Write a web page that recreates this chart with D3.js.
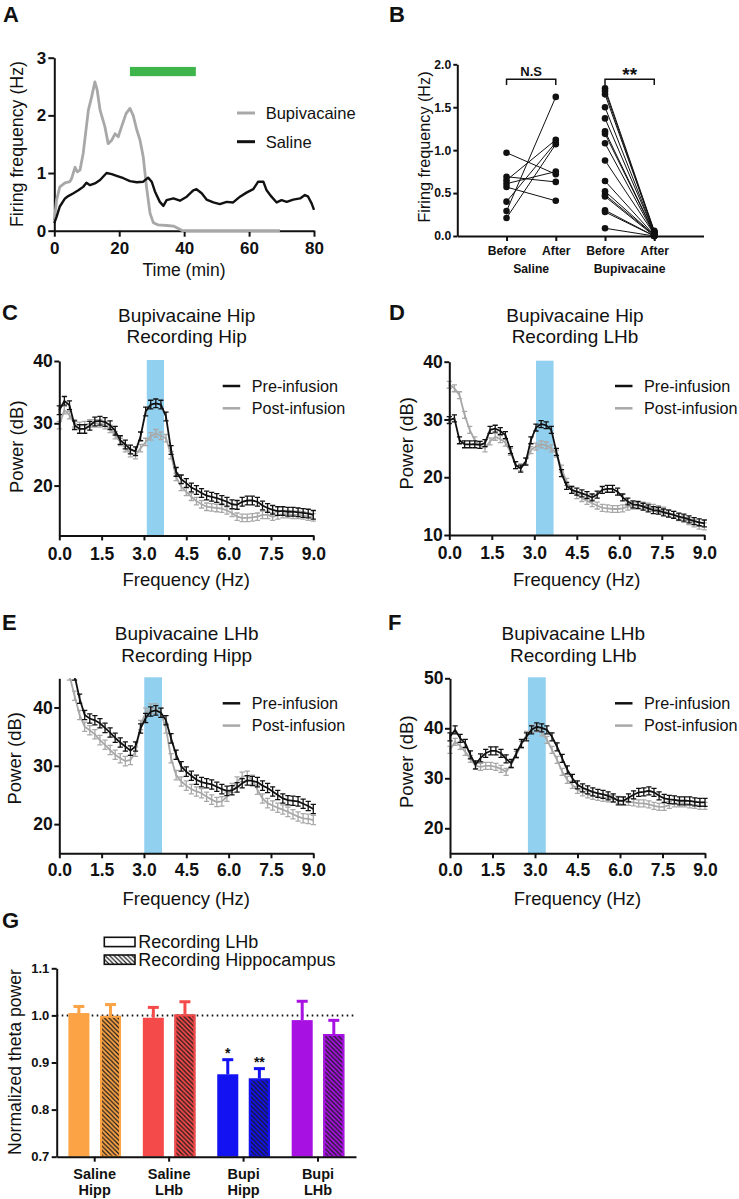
<!DOCTYPE html>
<html><head><meta charset="utf-8">
<script src="https://cdn.jsdelivr.net/npm/d3@7"></script>
<style>body{margin:0;background:#fff} svg{display:block} text{font-family:"Liberation Sans",Arial,Helvetica,sans-serif}</style>
</head><body><svg id="c" width="739" height="1199"></svg>
<script>
// ---------------- DATA ----------------
// Panel A: firing frequency traces
const timeBupi = [0,0.7,1.7,3.3,4.8,5.3,6.4,7.1,7.9,8.9,10.5,11.5,12.5,13.2,14.1,15.6,16.6,17.7,18.7,19.7,20.7,22.1,23.3,24.3,25.4,26.4,27.4,28.4,29.5,30.5,32,34.6,36.7,38.2,39.5,69.5];
const rateBupi = [0.18,0.53,0.76,0.83,0.85,0.9,1.1,1.02,1.05,1.34,2.09,2.32,2.58,2.44,2.09,1.8,1.51,1.57,1.68,1.63,1.8,2.03,2.12,2.0,1.75,1.57,1.28,0.76,0.3,0.14,0.1,0.09,0.08,0.04,0,0];
const timeSaline = [0,0.7,1.7,3.3,4.3,5.9,7.4,8.9,9.9,11,12.5,14.1,15.1,16.1,17.7,19.2,21.3,23.3,25.4,27.4,28.9,30,31,32.5,33.6,34.6,36.7,38.7,40.8,42.8,43.8,45.4,46.9,49,51,53.1,55.1,57.2,59.2,61.3,62.8,64.4,65.4,66.9,68.5,70,71.6,73.6,75.7,77.2,78.2,79.3,80];
const rateSaline = [0.13,0.24,0.42,0.56,0.6,0.65,0.7,0.76,0.83,0.79,0.82,0.88,0.94,1.0,0.98,0.95,0.91,0.86,0.84,0.85,0.92,0.85,0.68,0.5,0.43,0.53,0.56,0.52,0.59,0.7,0.72,0.65,0.54,0.49,0.46,0.5,0.49,0.59,0.66,0.72,0.85,0.85,0.7,0.59,0.49,0.53,0.5,0.54,0.56,0.62,0.59,0.47,0.36];
const infusionTime = [23.3, 43.6];
const infusionLevel = [2.68, 2.84];
const timeTicks = [0,20,40,60,80];
const rateTicksA = [0,1,2,3];
const seriesA = ["Bupivacaine","Saline"];

// Panel B: paired firing frequency
const salineBefore = [0.97,0.69,0.65,0.61,0.57,0.40,0.29,0.21];
const salineAfter  = [0.72,0.63,1.12,0.75,0.41,1.09,1.62,1.07];
const bupiBefore = [1.72,1.69,1.65,1.50,1.37,1.22,1.19,1.08,0.88,0.64,0.52,0.48,0.46,0.30,0.28,0.09];
const bupiAfter  = [0.06,0.05,0.05,0.04,0.04,0.03,0.03,0.02,0.02,0.01,0.01,0.01,0.0,0.0,0.0,0.0];
const conditionLabelsB = ["Before","After","Before","After"];
const groupLabelsB = ["Saline","Bupivacaine"];
const sigLabelsB = ["N.S","**"];
const rateTicksB = [0,0.5,1.0,1.5,2.0];

// Panels C–F: power spectra
const freqs = [0,0.18,0.36,0.54,0.72,0.9,1.08,1.26,1.44,1.62,1.8,1.98,2.16,2.34,2.52,2.7,2.88,3.06,3.24,3.42,3.6,3.78,3.96,4.14,4.32,4.5,4.68,4.86,5.04,5.22,5.4,5.58,5.76,5.94,6.12,6.3,6.48,6.66,6.84,7.02,7.2,7.38,7.56,7.74,7.92,8.1,8.28,8.46,8.64,8.82,9.0];
const powerPreC  = [32.1,33.6,32.9,29.7,29.1,29.1,29.6,30.3,30.4,30.2,29.7,28.8,27.3,26.6,25.8,25.5,27.9,31.9,33.0,33.2,33.0,31.1,25.7,22.2,21.0,20.4,19.7,19.3,18.8,18.4,18.2,18.0,17.7,17.4,17.0,16.9,17.4,17.6,17.6,17.4,16.8,16.4,16.1,15.9,15.9,15.8,15.8,15.7,15.6,15.5,15.3];
const powerPostC = [29.7,32.1,31.3,30.0,29.6,29.7,30.0,30.0,30.0,29.7,29.1,28.1,27.0,26.0,25.2,24.9,26.0,27.0,27.9,28.4,28.0,27.6,24.9,21.4,19.8,19.0,18.2,17.5,17.0,16.6,16.5,16.4,16.3,16.0,15.6,15.0,14.8,14.8,14.9,15.0,15.3,15.3,15.0,15.2,15.4,15.4,15.3,15.3,15.2,15.0,14.9];
const powerPreD  = [29.9,30.2,26.4,25.7,25.7,25.7,25.6,25.9,28.2,28.4,28.0,27.3,24.7,22.1,21.5,22.7,26.4,28.6,29.2,29.0,28.2,24.4,20.7,18.5,17.8,17.5,17.2,16.9,16.5,17.0,17.8,18.0,18.0,17.5,16.5,15.8,15.3,15.2,14.9,14.6,14.3,14.2,13.9,13.7,13.5,13.2,13.0,12.7,12.4,12.2,12.0];
const powerPostD = [36.0,35.4,34.2,30.8,28.2,26.4,25.6,25.0,26.2,27.0,26.6,26.0,24.4,22.1,21.7,22.8,24.7,25.3,25.7,25.5,25.0,24.1,21.5,19.2,17.8,16.9,16.4,15.9,15.5,15.1,14.7,14.6,14.5,14.5,14.6,14.9,15.1,15.1,15.1,14.9,14.7,14.5,14.2,13.8,13.5,13.1,12.8,12.4,12.0,11.6,11.5];
const powerPreE  = [53,51,48.5,45.5,41.5,38.7,38.1,37.8,37.3,36.5,35.7,34.8,34.0,33.3,32.6,33.3,36.4,38.2,39.3,39.5,39.1,37.8,34.7,31.9,29.9,29.0,28.3,27.6,27.2,27.0,26.8,26.4,26.0,25.7,25.8,26.3,27.0,27.5,27.4,27.2,26.6,26.2,25.6,25.0,24.4,24.1,24.0,23.9,23.5,23.1,22.6];
const powerPostE = [50,48,45.5,42.0,38.7,36.7,36.1,35.4,34.4,33.6,32.7,31.9,31.3,30.8,31.0,32.4,37.0,39.1,39.8,39.8,39.1,36.4,31.3,28.4,27.3,26.6,26.0,25.6,25.3,24.7,24.2,23.8,23.9,24.7,26.2,27.3,28.1,28.3,27.6,25.9,24.4,23.6,23.2,22.8,22.5,22.1,21.7,21.3,21.0,20.9,20.7];
const powerPreF  = [38.3,39.7,38.0,37.0,34.7,32.7,34.1,35.0,35.5,35.5,35.0,33.9,33.0,35.0,37.0,38.3,39.7,40.3,40.1,39.7,38.3,36.3,34.0,31.7,30.0,28.7,28.1,27.7,27.3,27.0,26.8,26.5,26.1,25.5,25.5,26.1,26.7,27.2,27.3,27.5,27.2,26.5,26.0,25.8,25.7,25.5,25.5,25.5,25.3,25.2,25.2];
const powerPostF = [35.7,37.3,36.5,35.3,33.9,32.5,32.3,32.5,32.5,32.3,31.9,31.3,32.7,34.7,36.7,38.7,39.9,40.0,39.2,37.7,35.7,33.7,31.3,29.7,28.7,27.7,27.2,26.8,26.5,26.3,26.1,26.0,25.9,25.7,25.5,25.3,25.2,25.0,25.0,24.8,24.5,24.3,24.3,24.7,25.0,25.0,25.0,24.8,24.7,24.5,24.5];
const semPre  = {C:0.7, D:0.6, E:0.8, F:0.8};
const semPost = {C:0.6, D:0.6, E:0.8, F:0.7};
const thetaBand = {C:[3.1,3.71], D:[3.06,3.68], E:[3.01,3.64], F:[2.75,3.38]};
const yDomains = {C:[12,40], D:[10,40], E:[15,45], F:[15,50]};
const yTicks = {C:[20,30,40], D:[10,20,30,40], E:[20,30,40], F:[20,30,40,50]};
const freqTicks = [0,1.5,3.0,4.5,6.0,7.5,9.0];
const titles = {C:["Bupivacaine Hip","Recording Hip"], D:["Bupivacaine Hip","Recording LHb"], E:["Bupivacaine LHb","Recording Hipp"], F:["Bupivacaine LHb","Recording LHb"]};
const seriesSpec = ["Pre-infusion","Post-infusion"];

// Panel G: normalized theta power
const groupsG1 = ["Saline","Saline","Bupi","Bupi"];
const groupsG2 = ["Hipp","LHb","Hipp","LHb"];
const recordingsG = ["Recording LHb","Recording Hippocampus"];
const thetaLHb  = [1.005,0.995,0.875,0.990];
const semLHb    = [0.014,0.022,0.031,0.040];
const thetaHipp = [0.999,1.002,0.866,0.9605];
const semHipp   = [0.024,0.027,0.021,0.029];
const starsLHb  = ["","","*",""];
const starsHipp = ["","","**",""];
const thetaTicks = [0.7,0.8,0.9,1.0,1.1];
const colorsG = ["#fba345","#f54a4a","#1212f2","#a712e2"];

// ---------------- DRAWING ----------------
const FF = '"Liberation Sans", Arial, Helvetica, sans-serif';
const INK = "#111", GRAY = "#a8a8a8";
const svg = d3.select("#c");
svg.append("rect").attr("width",739).attr("height",1199).attr("fill","#fff");

function txt(x,y,s,size,opts={}){
  const t = svg.append("text").attr("x",x).attr("y",y).text(s)
    .attr("font-size",size).attr("font-family",FF).attr("fill",opts.fill||INK)
    .attr("font-weight",opts.bold?"bold":"normal").attr("text-anchor",opts.anchor||"start");
  if (opts.rotate) t.attr("transform",`rotate(-90,${x},${y})`);
  return t;
}
function styleAxis(g,size,bold=true){
  g.attr("font-family",FF);
  g.select(".domain").attr("stroke",INK).attr("stroke-width",2);
  g.selectAll(".tick line").attr("stroke",INK).attr("stroke-width",2);
  g.selectAll(".tick text").attr("font-size",size).attr("font-weight",bold?"bold":"normal").attr("fill",INK).attr("font-family",FF);
}
function letter(s,x,y){ txt(x,y,s,22,{bold:true}); }

// ===== Panel A =====
(function(){
  const x = d3.scaleLinear().domain([0,80]).range([54.3,314]);
  const y = d3.scaleLinear().domain([0,3]).range([230.7,57.7]);
  letter("A",3,22);
  svg.append("rect").attr("x",x(infusionTime[0])).attr("width",x(infusionTime[1])-x(infusionTime[0]))
    .attr("y",y(infusionLevel[1])).attr("height",y(infusionLevel[0])-y(infusionLevel[1])).attr("fill","#3db54a");
  const gx = svg.append("g").attr("transform",`translate(0,${y(0)})`)
    .call(d3.axisBottom(x).tickValues(timeTicks).tickFormat(d3.format("d")).tickSize(6).tickSizeOuter(0).tickPadding(5.5));
  styleAxis(gx,17);
  const gy = svg.append("g").attr("transform",`translate(${x(0)},0)`)
    .call(d3.axisLeft(y).tickValues(rateTicksA).tickFormat(d3.format("d")).tickSize(6).tickSizeOuter(0).tickPadding(2));
  styleAxis(gy,17);
  const line = d3.line().x(d=>x(d[0])).y(d=>y(d[1]));
  svg.append("path").datum(timeBupi.map((t,i)=>[t,rateBupi[i]])).attr("d",line)
    .attr("fill","none").attr("stroke",GRAY).attr("stroke-width",2.8).attr("stroke-linejoin","round");
  svg.append("path").datum(timeSaline.map((t,i)=>[t,rateSaline[i]])).attr("d",line)
    .attr("fill","none").attr("stroke",INK).attr("stroke-width",2.4).attr("stroke-linejoin","round");
  // legend
  [[GRAY,113],[INK,141.7]].forEach(([c,ly],i)=>{
    svg.append("line").attr("x1",237).attr("x2",255).attr("y1",ly).attr("y2",ly).attr("stroke",c).attr("stroke-width",3);
    txt(265.7,ly+6,seriesA[i],16.5);
  });
  txt(184,276,"Time (min)",17.5,{anchor:"middle"});
  txt(23,144,"Firing frequency (Hz)",17.8,{anchor:"middle",rotate:true});
})();

// ===== Panel B =====
(function(){
  const x = d3.scaleLinear().domain([0,5]).range([457.3,703.5]);
  const y = d3.scaleLinear().domain([0,2]).range([236,64.3]);
  letter("B",389,22);
  const gx = svg.append("g").attr("transform",`translate(0,${y(0)})`)
    .call(d3.axisBottom(x).tickValues([1,2,3,4]).tickFormat((d,i)=>conditionLabelsB[i]).tickSize(5).tickSizeOuter(0).tickPadding(5.5));
  styleAxis(gx,12.2);
  const gy = svg.append("g").attr("transform",`translate(${x(0)},0)`)
    .call(d3.axisLeft(y).tickValues(rateTicksB).tickFormat(d3.format(".1f")).tickSize(4).tickSizeOuter(0).tickPadding(2));
  styleAxis(gy,12.2);
  const pairs = [[salineBefore,salineAfter,1],[bupiBefore,bupiAfter,3]];
  pairs.forEach(([bef,aft,c])=>{
    bef.forEach((v,i)=>{
      svg.append("line").attr("x1",x(c)).attr("y1",y(v)).attr("x2",x(c+1)).attr("y2",y(aft[i]))
        .attr("stroke",INK).attr("stroke-width",1);
    });
    bef.forEach(v=>svg.append("circle").attr("cx",x(c)).attr("cy",y(v)).attr("r",3.3).attr("fill",INK));
    aft.forEach(v=>svg.append("circle").attr("cx",x(c+1)).attr("cy",y(v)).attr("r",3.3).attr("fill",INK));
  });
  // brackets
  [[1,sigLabelsB[0],13,76.3],[3,sigLabelsB[1],19,81]].forEach(([c,lab,fs,by])=>{
    svg.append("path").attr("d",`M${x(c)},85 V79.3 H${x(c+1)} V85`).attr("fill","none").attr("stroke",INK).attr("stroke-width",1.5);
    txt((x(c)+x(c+1))/2,by,lab,fs,{bold:true,anchor:"middle"});
  });
  txt((x(1)+x(2))/2,272.5,groupLabelsB[0],12.2,{bold:true,anchor:"middle"});
  txt((x(3)+x(4))/2,272.5,groupLabelsB[1],12.2,{bold:true,anchor:"middle"});
  txt(429.5,147,"Firing frequency (Hz)",16.2,{anchor:"middle",rotate:true});
})();

// ===== Panels C–F =====
function spectrum(o){
  const k = o.key;
  const x = d3.scaleLinear().domain([0,9]).range([o.x0,o.x1]);
  const y = d3.scaleLinear().domain(yDomains[k]).range([o.yBot,o.yTop]);
  letter(k,o.lx,o.ly);
  txt(o.tx,o.ty1,titles[k][0],19,{anchor:"middle"});
  txt(o.tx,o.ty2,titles[k][1],19,{anchor:"middle"});
  svg.append("rect").attr("x",x(thetaBand[k][0])).attr("width",x(thetaBand[k][1])-x(thetaBand[k][0]))
    .attr("y",o.yTop-1).attr("height",o.yBot-o.yTop+1).attr("fill","#92d0ef");
  const cid = "clip"+k;
  svg.append("clipPath").attr("id",cid).append("rect").attr("x",o.x0-5).attr("y",o.yTop).attr("width",o.x1-o.x0+10).attr("height",o.yBot-o.yTop);
  const plot = svg.append("g").attr("clip-path",`url(#${cid})`);
  [[o.post,semPost[k],GRAY],[o.pre,semPre[k],INK]].forEach(([vals,sem,col])=>{
    const pts = freqs.map((f,i)=>[f,vals[i]]);
    plot.append("path").datum(pts).attr("d",d3.line().x(d=>x(d[0])).y(d=>y(d[1])))
      .attr("fill","none").attr("stroke",col).attr("stroke-width",1.8);
    const eb = plot.append("g").attr("stroke",col).attr("stroke-width",1.3);
    pts.forEach(d=>{
      const xx=x(d[0]), y1=y(d[1]+sem), y2=y(d[1]-sem);
      eb.append("line").attr("x1",xx).attr("x2",xx).attr("y1",y1).attr("y2",y2);
      eb.append("line").attr("x1",xx-2.6).attr("x2",xx+2.6).attr("y1",y1).attr("y2",y1);
      eb.append("line").attr("x1",xx-2.6).attr("x2",xx+2.6).attr("y1",y2).attr("y2",y2);
    });
  });
  const gx = svg.append("g").attr("transform",`translate(0,${o.yBot})`)
    .call(d3.axisBottom(x).tickValues(freqTicks).tickFormat(d3.format(".1f")).tickSize(5).tickSizeOuter(0).tickPadding(o.xpad));
  styleAxis(gx,17.5);
  const gy = svg.append("g").attr("transform",`translate(${o.x0},0)`)
    .call(d3.axisLeft(y).tickValues(yTicks[k]).tickFormat(d3.format("d")).tickSize(5).tickSizeOuter(0).tickPadding(1.5));
  styleAxis(gy,17.5);
  txt((o.x0+o.x1)/2,o.fy,"Frequency (Hz)",18.5,{anchor:"middle"});
  txt(o.px,o.py,"Power (dB)",18.5,{anchor:"middle",rotate:true});
  [[INK,o.legY],[GRAY,o.legY+22.3]].forEach(([c,ly],i)=>{
    svg.append("line").attr("x1",o.legX).attr("x2",o.legX+17.5).attr("y1",ly).attr("y2",ly).attr("stroke",c).attr("stroke-width",2.5);
    txt(o.legX+29,ly+5.8,seriesSpec[i],16.2);
  });
}
spectrum({key:"C",pre:powerPreC,post:powerPostC,x0:59.3,x1:313.3,yTop:361,yBot:535.4,lx:2,ly:320,tx:186.7,ty1:321.7,ty2:343.4,xpad:7,fy:586.3,px:23,py:446.7,legX:222.7,legY:386});
spectrum({key:"D",pre:powerPreD,post:powerPostD,x0:449.3,x1:704.3,yTop:361.7,yBot:535,lx:389,ly:320,tx:575,ty1:321.7,ty2:343.4,xpad:7,fy:586.3,px:413,py:443.3,legX:615,legY:386});
spectrum({key:"E",pre:powerPreE,post:powerPostE,x0:59.3,x1:313.3,yTop:678.3,yBot:853.3,lx:2,ly:630,tx:186.7,ty1:640,ty2:661.7,xpad:5.7,fy:904.6,px:21.5,py:758.3,legX:222.7,legY:703.3});
spectrum({key:"F",pre:powerPreF,post:powerPostF,x0:450,x1:705,yTop:678.3,yBot:853.3,lx:388,ly:630,tx:573.3,ty1:640,ty2:661.7,xpad:5.7,fy:904.6,px:413,py:761.7,legX:615,legY:703.3});

// ===== Panel G =====
(function(){
  const y = d3.scaleLinear().domain([0.7,1.1]).range([1156.7,968.3]);
  const x0 = d3.scaleBand().domain(d3.range(groupsG1.length)).range([56.7,356]).paddingInner(0.293).paddingOuter(0.157);
  const x1 = d3.scaleBand().domain(["LHb","Hipp"]).range([0,x0.bandwidth()]).paddingInner(0.335);
  letter("G",2,928);
  const defs = svg.append("defs");
  function hatch(id,bg){
    const p = defs.append("pattern").attr("id",id).attr("patternUnits","userSpaceOnUse").attr("width",4.5).attr("height",4.5);
    p.append("rect").attr("width",4.5).attr("height",4.5).attr("fill",bg);
    p.append("path").attr("d","M0,0 L4.5,4.5 M-1,3.5 L1,5.5 M3.5,-1 L5.5,1").attr("stroke","#1a1a1a").attr("stroke-width",1.2);
  }
  colorsG.forEach((c,i)=>hatch("hatch"+i,c));
  hatch("hatchW","#fff");
  // dotted reference line
  svg.append("line").attr("x1",56.7).attr("x2",356).attr("y1",y(1.0)).attr("y2",y(1.0))
    .attr("stroke",INK).attr("stroke-width",2).attr("stroke-dasharray","1.6,3.4");
  const series = [["LHb",thetaLHb,semLHb,starsLHb,false],["Hipp",thetaHipp,semHipp,starsHipp,true]];
  series.forEach(([key,vals,sems,stars,hatched])=>{
    vals.forEach((v,i)=>{
      const bx = x0(i)+x1(key), bw = x1.bandwidth(), cx = bx+bw/2;
      svg.append("rect").attr("x",bx).attr("width",bw).attr("y",y(v)).attr("height",y(0.7)-y(v))
        .attr("fill",hatched?`url(#hatch${i})`:colorsG[i]);
      if (hatched) svg.append("rect").attr("x",bx+1).attr("width",bw-2).attr("y",y(v)+1).attr("height",y(0.7)-y(v)-1)
        .attr("fill","none").attr("stroke",colorsG[i]).attr("stroke-width",2);
      const et = y(v+sems[i]);
      svg.append("line").attr("x1",cx).attr("x2",cx).attr("y1",y(v)).attr("y2",et).attr("stroke",colorsG[i]).attr("stroke-width",3);
      svg.append("line").attr("x1",cx-5.5).attr("x2",cx+5.5).attr("y1",et).attr("y2",et).attr("stroke",colorsG[i]).attr("stroke-width",3);
      if (stars[i]) txt(cx,et-2,stars[i],14,{bold:true,anchor:"middle"});
    });
  });
  const gy = svg.append("g").attr("transform","translate(56.7,0)")
    .call(d3.axisLeft(y).tickValues(thetaTicks).tickFormat(d3.format(".1f")).tickSize(5).tickSizeOuter(0).tickPadding(2.4));
  styleAxis(gy,13);
  const gx = svg.append("g").attr("transform",`translate(0,${y(0.7)})`)
    .call(d3.axisBottom(x0).tickSize(5).tickSizeOuter(0).tickFormat(""));
  styleAxis(gx,13);
  groupsG1.forEach((g,i)=>{
    const cx = x0(i)+x0.bandwidth()/2;
    txt(cx,1178.5,g,14.5,{bold:true,anchor:"middle"});
    txt(cx,1194.5,groupsG2[i],14.5,{bold:true,anchor:"middle"});
  });
  txt(21,1062,"Normalized theta power",17.6,{anchor:"middle",rotate:true});
  // legend
  [["#fff",937.3],["url(#hatchW)",955]].forEach(([f,ly],i)=>{
    svg.append("rect").attr("x",104.3).attr("y",ly).attr("width",30.7).attr("height",9.3).attr("fill",f).attr("stroke",INK).attr("stroke-width",1.6);
    txt(138.3,ly+11,recordingsG[i],18);
  });
})();
</script></body></html>
